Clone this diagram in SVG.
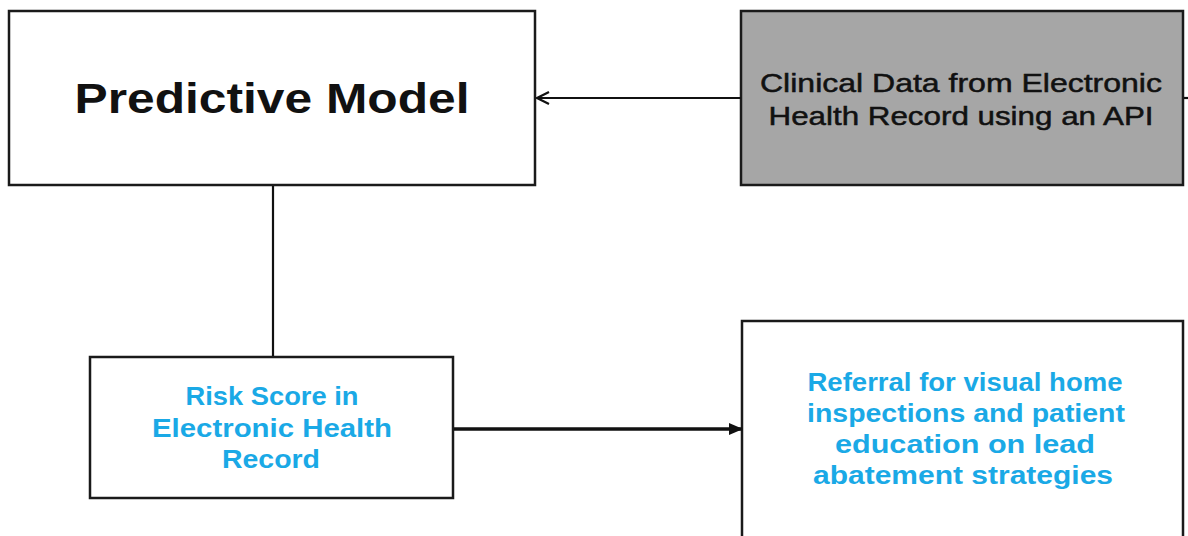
<svg xmlns="http://www.w3.org/2000/svg" width="1188" height="536" viewBox="0 0 1188 536">
<style>
.box{fill:#ffffff;stroke:#1a1a1a;stroke-width:2.5}
.gray{fill:#a6a6a6;stroke:#1a1a1a;stroke-width:2.5}
.t{font-family:"Liberation Sans",Arial,sans-serif;text-anchor:middle}
.title{font-size:42px;font-weight:bold;fill:#111}
.dark{font-size:26px;fill:#111;stroke:#111;stroke-width:0.5}
.blue{font-size:26px;font-weight:bold;fill:#1aa9e6}
.conn{stroke:#111;fill:none}
</style>
<defs>
<marker id="open" markerWidth="14" markerHeight="14" refX="13" refY="7" orient="auto" markerUnits="userSpaceOnUse">
<path d="M1,1 L13,7 L1,13" fill="none" stroke="#111" stroke-width="2.2"/>
</marker>
<marker id="solid" markerWidth="14" markerHeight="12" refX="13" refY="6" orient="auto" markerUnits="userSpaceOnUse">
<path d="M0,0 L14,6 L0,12 Z" fill="#111"/>
</marker>
</defs>
<g id="predictive-model">
<rect class="box" x="9" y="11" width="526" height="174"/>
<text class="t title" x="272" y="113" textLength="395" lengthAdjust="spacingAndGlyphs">Predictive Model</text>
</g>
<g id="clinical-data">
<rect class="gray" x="741" y="11" width="442" height="174"/>
<text class="t dark" x="961" y="92" textLength="402" lengthAdjust="spacingAndGlyphs">Clinical Data from Electronic</text>
<text class="t dark" x="961" y="125" textLength="385" lengthAdjust="spacingAndGlyphs">Health Record using an API</text>
</g>
<g id="risk-score">
<rect class="box" x="90" y="357" width="363" height="141"/>
<text class="t blue" x="272" y="405" textLength="173" lengthAdjust="spacingAndGlyphs">Risk Score in</text>
<text class="t blue" x="272" y="437" textLength="240" lengthAdjust="spacingAndGlyphs">Electronic Health</text>
<text class="t blue" x="271" y="468" textLength="98" lengthAdjust="spacingAndGlyphs">Record</text>
</g>
<g id="referral">
<rect class="box" x="742" y="321" width="441" height="230"/>
<text class="t blue" x="965" y="391" textLength="315" lengthAdjust="spacingAndGlyphs">Referral for visual home</text>
<text class="t blue" x="966" y="422" textLength="318" lengthAdjust="spacingAndGlyphs">inspections and patient</text>
<text class="t blue" x="965" y="453" textLength="260" lengthAdjust="spacingAndGlyphs">education on lead</text>
<text class="t blue" x="963" y="484" textLength="300" lengthAdjust="spacingAndGlyphs">abatement strategies</text>
</g>
<g id="connectors">
<line class="conn" x1="741" y1="98" x2="537" y2="98" stroke-width="2.2" marker-end="url(#open)"/>
<line class="conn" x1="1184" y1="98" x2="1188" y2="98" stroke-width="2.2"/>
<line class="conn" x1="273" y1="186" x2="273" y2="356" stroke-width="2.2"/>
<line class="conn" x1="454" y1="429" x2="742" y2="429" stroke-width="3.5" marker-end="url(#solid)"/>
</g>
</svg>
